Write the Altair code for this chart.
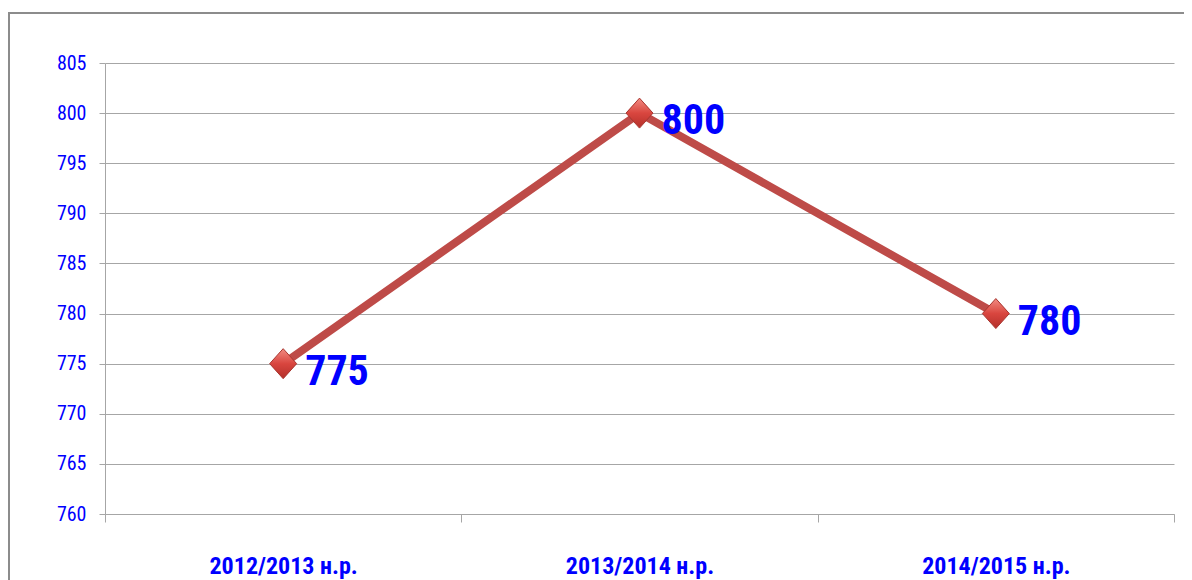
import altair as alt
import pandas as pd

years = ["2012/2013 н.р.", "2013/2014 н.р.", "2014/2015 н.р."]
values = [775, 800, 780]
y_ticks = [760, 765, 770, 775, 780, 785, 790, 795, 800, 805]

df = pd.DataFrame({"year": years, "value": values})

FONT = "Liberation Sans Narrow, Roboto Condensed, Open Sans Condensed, DejaVu Sans Condensed, sans-serif"
BLUE = "#0000ff"
GRID = "#a6a6a6"

x_enc = alt.X(
    "year:N",
    sort=years,
    scale=alt.Scale(type="band", paddingInner=0, paddingOuter=0),
    axis=alt.Axis(
        title=None,
        labelAngle=0,
        tickBand="extent",
        grid=False,
        domain=True,
        domainColor=GRID,
        tickColor=GRID,
        tickSize=8,
        labelFont=FONT,
        labelFontSize=24,
        labelFontWeight="bold",
        labelColor=BLUE,
        labelBaseline="alphabetic",
        labelPadding=51,
        labelLimit=0,
    ),
)
y_enc = alt.Y(
    "value:Q",
    scale=alt.Scale(domain=[760, 805], nice=False, zero=False),
    axis=alt.Axis(
        title=None,
        values=y_ticks,
        grid=True,
        gridColor=GRID,
        domain=True,
        domainColor=GRID,
        tickColor=GRID,
        tickSize=6,
        labelFont=FONT,
        labelFontSize=20,
        labelColor=BLUE,
        labelPadding=13,
    ),
)

frame = alt.Chart(pd.DataFrame({"a": [0]})).mark_rect(
    fill="transparent", stroke="#8c8c8c", strokeWidth=2
).encode(
    x=alt.value(-96), x2=alt.value(1300), y=alt.value(-50), y2=alt.value(700)
)

base = alt.Chart(df).encode(x=x_enc, y=y_enc)

line = base.mark_line(color="#be4b48", strokeWidth=8)

grad = alt.Gradient(
    gradient="linear",
    stops=[
        alt.GradientStop(color="#f28b82", offset=0),
        alt.GradientStop(color="#d9463f", offset=0.5),
        alt.GradientStop(color="#b3302a", offset=1),
    ],
    x1=0, y1=0, x2=0, y2=1,
)
points = base.mark_point(
    shape="M0,-1L0.9,0L0,1L-0.9,0Z",
    size=900,
    filled=True,
    fill=grad,
    stroke="#a8352f",
    strokeWidth=1,
    opacity=1,
)

labels = base.mark_text(
    align="left",
    baseline="alphabetic",
    dx=22,
    dy=21,
    fontSize=42,
    fontWeight="bold",
    font=FONT,
    color=BLUE,
).encode(text="value:Q")

chart = alt.layer(frame, line, points, labels).properties(
    width=1069,
    height=451,
    autosize=alt.AutoSizeParams(type="none"),
    padding={"left": 97, "top": 55, "right": 10, "bottom": 66},
).configure_view(stroke=None)

chart.save("out.html", embed_options={"renderer": "svg", "actions": False})
